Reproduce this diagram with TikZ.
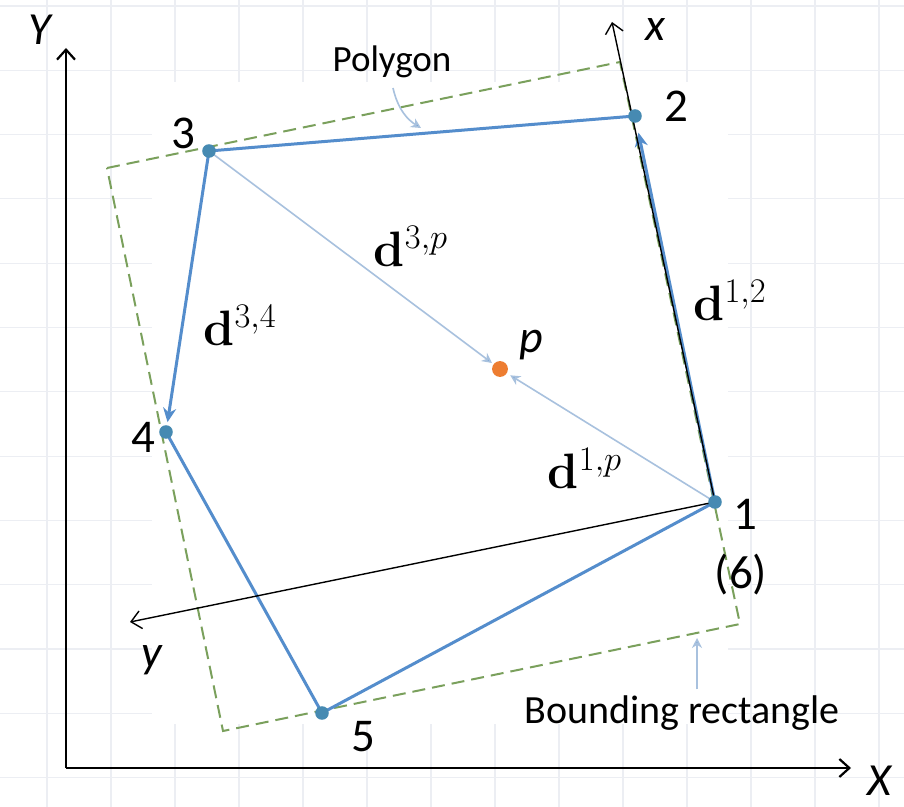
\documentclass[tikz,border=0pt]{standalone}
\usepackage[no-math]{fontspec}
\setmainfont{Carlito}
\usepackage{amsmath,amssymb}
\usepackage{xcolor}
\usepackage{tikz}
\usetikzlibrary{arrows.meta}

\definecolor{polyblue}{RGB}{84,141,204}
\definecolor{dotblue}{RGB}{70,138,178}
\definecolor{thinblue}{RGB}{168,193,222}
\definecolor{rectgreen}{RGB}{122,160,92}
\definecolor{porange}{RGB}{237,125,49}
\definecolor{gridgray}{RGB}{236,238,243}

\begin{document}
\begin{tikzpicture}[x=0.5pt, y=-0.5pt,
  poly/.style={polyblue, line width=1.5pt},
  ar/.style={-{Stealth[length=7pt, width=6.5pt]}},
  thin/.style={thinblue, line width=0.8pt},
  pin/.style={-{Stealth[length=5pt, width=5pt, fill=polyblue]}},
  rect/.style={rectgreen, line width=1pt, dash pattern=on 6.5pt off 3.5pt},
  ax/.style={black, line width=1.1pt, -{Straight Barb[length=5pt, width=9pt]}},
  lax/.style={black, line width=0.7pt, -{Straight Barb[length=5pt, width=9pt]}},
  dot/.style={circle, fill=dotblue, inner sep=2.4pt},
  lbl/.style={font=\fontsize{20}{24}\selectfont, inner sep=0pt},
  num/.style={font=\fontsize{23.5}{26}\selectfont, inner sep=0pt},
  mlbl/.style={font=\fontsize{25}{28}\selectfont, inner sep=0pt},
  albl/.style={font=\fontsize{23}{26}\selectfont\itshape, inner sep=0pt}]
  \useasboundingbox (0,0) rectangle (904,807);
  % background grid (pixel units, y downwards), blank behind the figure
  \foreach \k in {0,...,12}
    \draw[gridgray, line width=0.6pt] (0,6+64.3*\k) -- (904,6+64.3*\k);
  \foreach \k in {0,...,13}
    \draw[gridgray, line width=0.6pt] (47+64*\k,0) -- (47+64*\k,807);
  \fill[white] (152,82) rectangle (728,724);
  % precomputed points
  \coordinate (O) at (66,768);
  \coordinate (v1) at (715,502);
  \coordinate (v2) at (635,116);
  \coordinate (v3) at (209,151);
  \coordinate (v4) at (166,432);
  \coordinate (v5) at (322,713);
  \coordinate (p) at (500,369);
  \coordinate (xtip) at (612,22);
  \coordinate (ytip) at (130,622);
  % bounding rectangle
  \draw[rect] (107,168) -- (620,62) -- (740,624) -- (223,731) -- cycle;
  % global axes
  \draw[ax] (O) -- (66,48);
  \draw[ax] (O) -- (851,768);
  \node[albl] (Ylbl) at (40,30) {Y};
  \node[albl] (Xlbl) at (879,781) {X};
  % polygon and difference vectors
  \draw[poly] (v2) -- (v3);
  \draw[poly] (v4) -- (v5) -- (v1);
  \draw[poly, ar, shorten >=5pt] (v3) -- (v4);
  \draw[poly, ar, shorten >=8.5pt] (v1) -- (v2);
  \draw[thin, pin, shorten >=5pt] (v3) -- (p);
  \draw[thin, pin, shorten >=6pt] (v1) -- (p);
  % local axes
  \draw[lax] (v1) -- (xtip);
  \draw[lax] (v1) -- (ytip);
  \node[albl] (xlbl) at (655,30) {x};
  \node[albl] (ylbl) at (152,660) {y};
  % points
  \foreach \v in {v1,v2,v3,v4,v5}
    \node[dot] at (\v) {};
  \node[dot, fill=porange, inner sep=2.8pt] at (p) {};
  % labels
  \node[num] (n1) at (745,514) {1};
  \node[num] (n6) at (741,575) {(6)};
  \node[num] (n2) at (676,106) {2};
  \node[num] (n3) at (183,133) {3};
  \node[num] (n4) at (143,437) {4};
  \node[num] (n5) at (363,737) {5};
  \node[albl] (plbl) at (531,345) {p};
  \node[mlbl] (d3p) at (411,246) {$\mathbf{d}^{3,p}$};
  \node[mlbl] (d34) at (240,325) {$\mathbf{d}^{3,4}$};
  \node[mlbl] (d12) at (730,300) {$\mathbf{d}^{1,2}$};
  \node[mlbl] (d1p) at (585,468) {$\mathbf{d}^{1,p}$};
  % callouts
  \node[lbl, font=\fontsize{18.5}{22}\selectfont] (poly) at (392,62) {Polygon};
  \node[lbl] (brect) at (682,713) {Bounding rectangle};
  \coordinate (polyend) at (421,128);
  \coordinate (rectend) at (697,638);
  \draw[thin, pin] (393,88) .. controls (398,110) and (408,120) .. (polyend);
  \draw[thin, pin] (brect.north -| rectend) ++(0,-6) -- (rectend);
\end{tikzpicture}
\end{document}
